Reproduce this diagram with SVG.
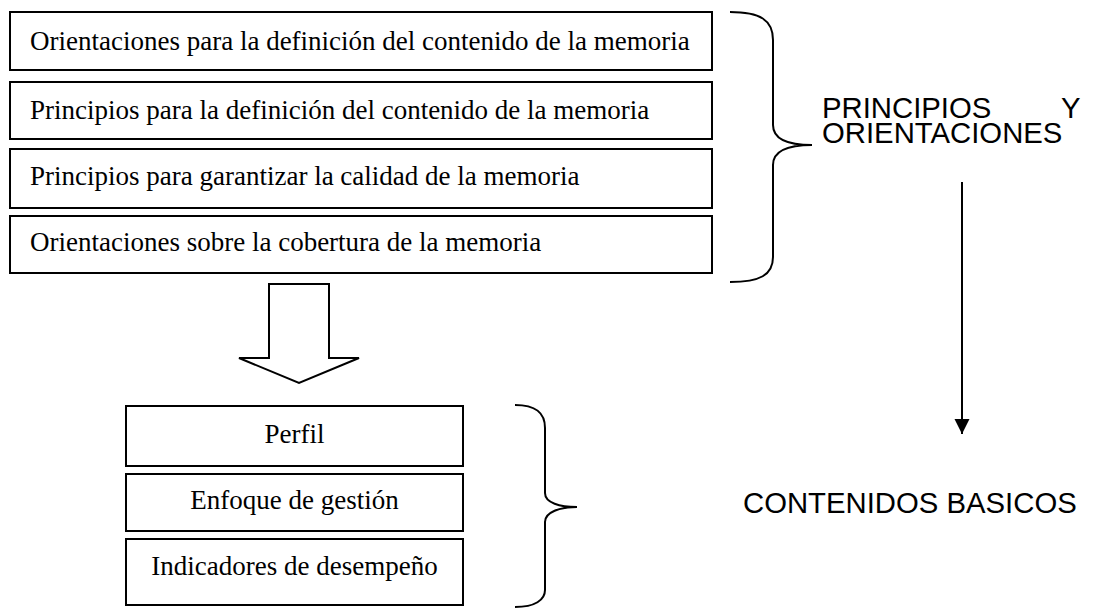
<svg xmlns="http://www.w3.org/2000/svg" width="1102" height="608" viewBox="0 0 1102 608">
<style>
.box{fill:#fff;stroke:#000;stroke-width:2}
.t{font-family:"Liberation Serif","Times New Roman",serif;font-size:27px;fill:#000}
.c{text-anchor:middle}
.s{font-family:"Liberation Sans",Arial,sans-serif;font-size:29.3px;fill:#000}
.br{fill:none;stroke:#000;stroke-width:2}
</style>
<defs>
<marker id="ah" markerWidth="16" markerHeight="16" refX="15" refY="8" orient="auto" markerUnits="userSpaceOnUse">
<path d="M0,0.5 L15,8 L0,15.5 Z" fill="#000"/>
</marker>
</defs>
<rect width="1102" height="608" fill="#fff"/>
<g id="n1"><rect class="box" x="10" y="12" width="702" height="58"/><text class="t" x="30" y="50">Orientaciones para la definición del contenido de la memoria</text></g>
<g id="n2"><rect class="box" x="10" y="82" width="702" height="57"/><text class="t" x="30" y="119">Principios para la definición del contenido de la memoria</text></g>
<g id="n3"><rect class="box" x="10" y="149" width="702" height="59"/><text class="t" x="30" y="185">Principios para garantizar la calidad de la memoria</text></g>
<g id="n4"><rect class="box" x="10" y="216" width="702" height="57"/><text class="t" x="30" y="251">Orientaciones sobre la cobertura de la memoria</text></g>
<g id="n5"><rect class="box" x="126" y="406" width="337" height="60"/><text class="t c" x="294.5" y="443">Perfil</text></g>
<g id="n6"><rect class="box" x="126" y="474" width="337" height="57"/><text class="t c" x="294.5" y="509">Enfoque de gestión</text></g>
<g id="n7"><rect class="box" x="126" y="539" width="337" height="66"/><text class="t c" x="294.5" y="575">Indicadores de desempeño</text></g>
<g id="brace1"><path class="br" d="M730,12 C760,12 773,20 773,40 L773,125 C773,140 790,145 812,145 C790,145 773,150 773,165 L773,257 C773,275 760,282 730,282"/></g>
<g id="brace2"><path class="br" d="M515,405 C535,405 545,412 545,428 L545,493 C545,503 560,507 577,507 C560,507 545,512 545,522 L545,590 C545,600 535,607 515,607"/></g>
<g id="lbl1"><text class="s"><tspan x="822" y="118">PRINCIPIOS</tspan><tspan x="1061" y="118">Y</tspan><tspan x="822" y="143">ORIENTACIONES</tspan></text></g>
<g id="lbl2"><text class="s" x="743" y="513">CONTENIDOS BASICOS</text></g>
<g id="connectors">
<path d="M269,284 L329,284 L329,358 L359,358 L299,383 L239,358 L269,358 Z" fill="#fff" stroke="#000" stroke-width="2" stroke-linejoin="miter"/>
<line x1="962" y1="182" x2="962" y2="434" stroke="#000" stroke-width="2" marker-end="url(#ah)"/>
</g>
</svg>
